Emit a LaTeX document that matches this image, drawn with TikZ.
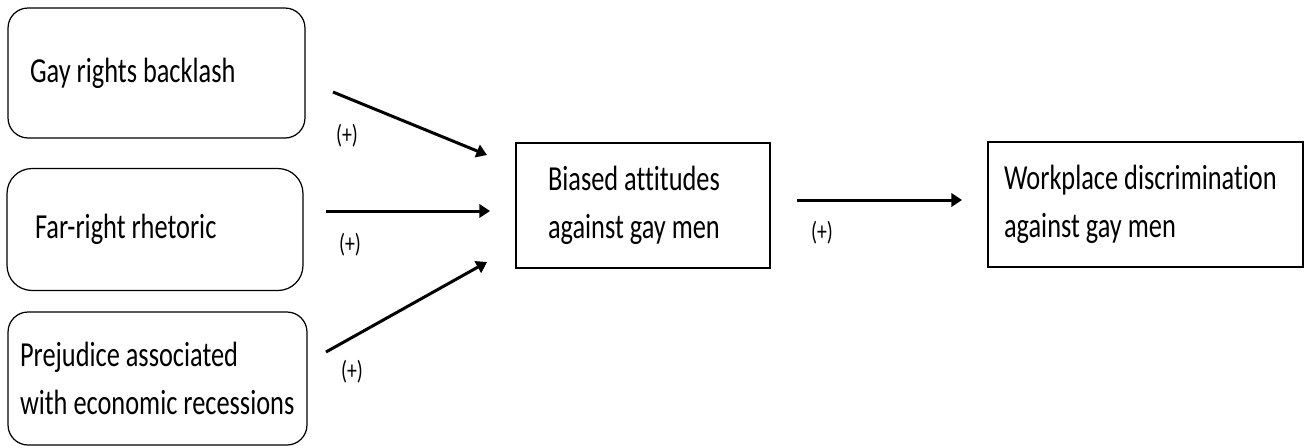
\documentclass[tikz,border=0pt]{standalone}
\usepackage{fontspec}
\setmainfont{Carlito}[FakeStretch=0.75, Ligatures=NoCommon]
\usetikzlibrary{arrows.meta, positioning}
\hyphenpenalty=10000
\exhyphenpenalty=10000

\begin{document}
\begin{tikzpicture}[
    x=0.02cm, y=-0.02cm,
    cause/.style={draw, line width=0.7pt, rounded corners=0.4cm, inner sep=0pt, align=flush left, font=\fontsize{20}{27.5}\selectfont},
    effect/.style={draw, line width=0.7pt, inner sep=0pt, align=flush left, font=\fontsize{20}{27.5}\selectfont},
    arrow/.style={-{Triangle[length=6pt, width=7.5pt]}, line width=1.7pt},
    sign/.style={font=\fontsize{15}{18}\selectfont, inner sep=0pt}
]
    \useasboundingbox (0,0) rectangle (1310,447);

    % Nodes
    \node[cause, minimum width=5.94cm, minimum height=2.6cm, text width=5.06cm] (backlash) at (156.5,73) {Gay rights backlash};
    \node[cause, rounded corners=0.5cm, minimum width=5.92cm, minimum height=2.44cm, text width=4.8cm] (rhetoric) at (155,229.5) {Far-right rhetoric};
    \node[cause, minimum width=5.98cm, minimum height=2.66cm, text width=5.5cm] (recession) at (157.5,378.5) {Prejudice associated\\with economic recessions};
    \node[effect, minimum width=5.08cm, minimum height=2.5cm, text width=3.8cm] (bias) at (643,205.5) {Biased attitudes\\against gay men};
    \node[effect, minimum width=6.3cm, minimum height=2.5cm, text width=5.66cm] (work) at (1145.5,204.5) {Workplace discrimination\\against gay men};

    % Arrow ends
    \coordinate (s1) at (333,92);
    \coordinate (t1) at (487,155);
    \coordinate (s2) at (326,211);
    \coordinate (t2) at (490,211);
    \coordinate (s3) at (326,352);
    \coordinate (t3) at (487,262);
    \coordinate (s4) at (797,200);
    \coordinate (t4) at (962,200);

    % Arrows
    \draw[arrow] (s1) -- (t1);
    \draw[arrow] (s2) -- (t2);
    \draw[arrow] (s3) -- (t3);
    \draw[arrow] (s4) -- (t4);

    % Signs
    \node[sign] (p1) at (347,136) {(+)};
    \node[sign] (p2) at (350,245) {(+)};
    \node[sign] (p3) at (352,372) {(+)};
    \node[sign] (p4) at (822,233) {(+)};
\end{tikzpicture}
\end{document}
